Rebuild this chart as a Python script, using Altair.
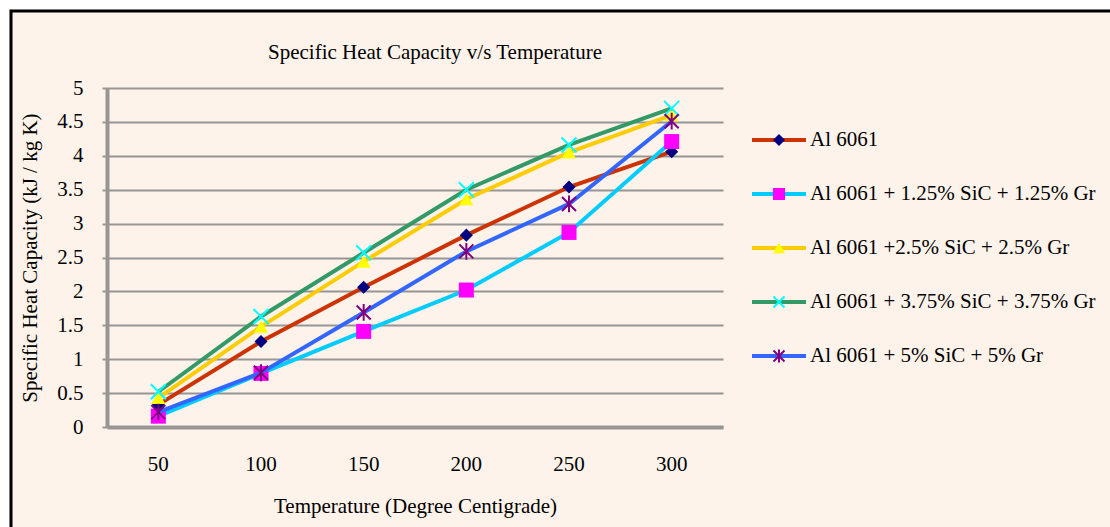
import altair as alt
import pandas as pd

# ---------------- data ----------------
temps = ["50", "100", "150", "200", "250", "300"]
series_names = [
    "Al 6061",
    "Al 6061 + 1.25% SiC + 1.25% Gr",
    "Al 6061 +2.5% SiC + 2.5% Gr",
    "Al 6061 + 3.75% SiC + 3.75% Gr",
    "Al 6061 + 5% SiC + 5% Gr",
]
al6061 = [0.33, 1.26, 2.06, 2.83, 3.54, 4.06]
sic125 = [0.16, 0.79, 1.41, 2.02, 2.87, 4.21]
sic25 = [0.43, 1.48, 2.44, 3.36, 4.05, 4.60]
sic375 = [0.52, 1.63, 2.57, 3.50, 4.16, 4.70]
sic5 = [0.22, 0.80, 1.69, 2.59, 3.29, 4.51]
y_ticks = [0, 0.5, 1, 1.5, 2, 2.5, 3, 3.5, 4, 4.5, 5]

chart_title = "Specific Heat Capacity v/s Temperature"
x_title = "Temperature (Degree Centigrade)"
y_title = "Specific Heat Capacity (kJ / kg K)"

all_values = [al6061, sic125, sic25, sic375, sic5]

# ---------------- styles ----------------
FONT = "Liberation Serif"
FS = 21
GRAY = "#969696"
BG = "#FDF3EA"
line_colors = ["#CC3300", "#00CCFF", "#FFCC00", "#339966", "#3366FF"]
X_PATH = "M-1,-1L1,1M-1,1L1,-1"
STAR_PATH = "M-1,-1L1,1M-1,1L1,-1M0,-1.2L0,1.2"
markers = [
    dict(shape="diamond", filled=True, color="#000080", size=170, lsize=144),
    dict(shape="square", filled=True, color="#FF00FF", size=225, lsize=144),
    dict(shape="triangle-up", filled=True, color="#FFFF00", size=196, lsize=144),
    dict(shape=X_PATH, filled=False, color="#00FFFF", size=225, lsize=121),
    dict(shape=STAR_PATH, filled=False, color="#800080", size=196, lsize=121),
]

W, H = 616, 339

x_enc = alt.X(
    "T:O",
    sort=temps,
    bandPosition=0.5,
    scale=alt.Scale(type="band", domain=temps, paddingInner=0, paddingOuter=0),
    axis=alt.Axis(
        title=x_title,
        labelAngle=0,
        grid=False,
        ticks=False,
        tickSize=0,
        bandPosition=0,
        domainColor=GRAY,
        domainWidth=4,
        labelPadding=26,
        labelFont=FONT,
        labelFontSize=FS,
        labelColor="black",
        titleFont=FONT,
        titleFontSize=FS,
        titleFontWeight="normal",
        titleColor="black",
        titlePadding=21,
    ),
)
y_enc = alt.Y(
    "v:Q",
    scale=alt.Scale(domain=[0, 5], nice=False, zero=True),
    axis=alt.Axis(
        title=y_title,
        values=y_ticks,
        format="~g",
        grid=True,
        gridColor=GRAY,
        gridWidth=2,
        domainColor=GRAY,
        domainWidth=4,
        tickColor=GRAY,
        tickWidth=2,
        tickSize=5,
        labelPadding=19,
        labelFont=FONT,
        labelFontSize=FS,
        labelColor="black",
        titleFont=FONT,
        titleFontSize=FS,
        titleFontWeight="normal",
        titleColor="black",
        titlePadding=16,
    ),
)

one = pd.DataFrame({"a": [0]})

# outer frame (decoration)
white_cover = alt.Chart(one).mark_rect(
    fill=None, stroke="white", strokeWidth=22
).encode(
    x=alt.value(-109), x2=alt.value(1200), y=alt.value(-90), y2=alt.value(600)
)
black_frame = alt.Chart(one).mark_rect(
    fill=None, stroke="black", strokeWidth=3
).encode(
    x=alt.value(-96), x2=alt.value(1150), y=alt.value(-77), y2=alt.value(600)
)
title_df = pd.DataFrame({"t": [chart_title]})
title_mark = alt.Chart(title_df).mark_text(
    align="center", baseline="alphabetic", font=FONT, fontSize=FS, color="black"
).encode(x=alt.value(328), y=alt.value(-29), text="t:N")

main_layers = [white_cover, black_frame, title_mark]
legend_layers = []

legend_y = alt.Y(
    "series:N",
    scale=alt.Scale(type="point", domain=series_names, range=[25, 295]),
    axis=None,
)

for i, name in enumerate(series_names):
    df = pd.DataFrame({"T": temps, "v": all_values[i], "series": name})
    m = markers[i]
    main_layers.append(
        alt.Chart(df).mark_line(color=line_colors[i], strokeWidth=4).encode(x=x_enc, y=y_enc)
    )
    if m["filled"]:
        pt = alt.Chart(df).mark_point(
            shape=m["shape"], filled=True, fill=m["color"], stroke=None,
            size=m["size"], opacity=1,
        )
    else:
        pt = alt.Chart(df).mark_point(
            shape=m["shape"], filled=False, stroke=m["color"], strokeWidth=2,
            size=m["size"], opacity=1,
        )
    main_layers.append(pt.encode(x=x_enc, y=y_enc))

    ldf = pd.DataFrame({"series": [name]})
    legend_layers.append(
        alt.Chart(ldf).mark_rule(color=line_colors[i], strokeWidth=4).encode(
            x=alt.value(645), x2=alt.value(699), y=legend_y
        )
    )
    if m["filled"]:
        lpt = alt.Chart(ldf).mark_point(
            shape=m["shape"], filled=True, fill=m["color"], stroke=None,
            size=m["lsize"], opacity=1,
        )
    else:
        lpt = alt.Chart(ldf).mark_point(
            shape=m["shape"], filled=False, stroke=m["color"], strokeWidth=2,
            size=m["lsize"], opacity=1,
        )
    legend_layers.append(lpt.encode(x=alt.value(672), y=legend_y))
    legend_layers.append(
        alt.Chart(ldf).mark_text(
            align="left", baseline="middle", font=FONT, fontSize=FS, color="black"
        ).encode(x=alt.value(703), y=legend_y, text="series:N")
    )

main = alt.layer(*main_layers)
legend = alt.layer(*legend_layers)

chart = (
    alt.layer(main, legend)
    .resolve_scale(y="independent", x="independent")
    .properties(
        width=W,
        height=H,
        autosize=alt.AutoSizeParams(type="none"),
        padding={"left": 107, "top": 88, "right": 387, "bottom": 100},
        background=BG,
    )
    .configure_view(stroke=None)
)

chart.save("out.html", embed_options={"renderer": "svg", "actions": False})
